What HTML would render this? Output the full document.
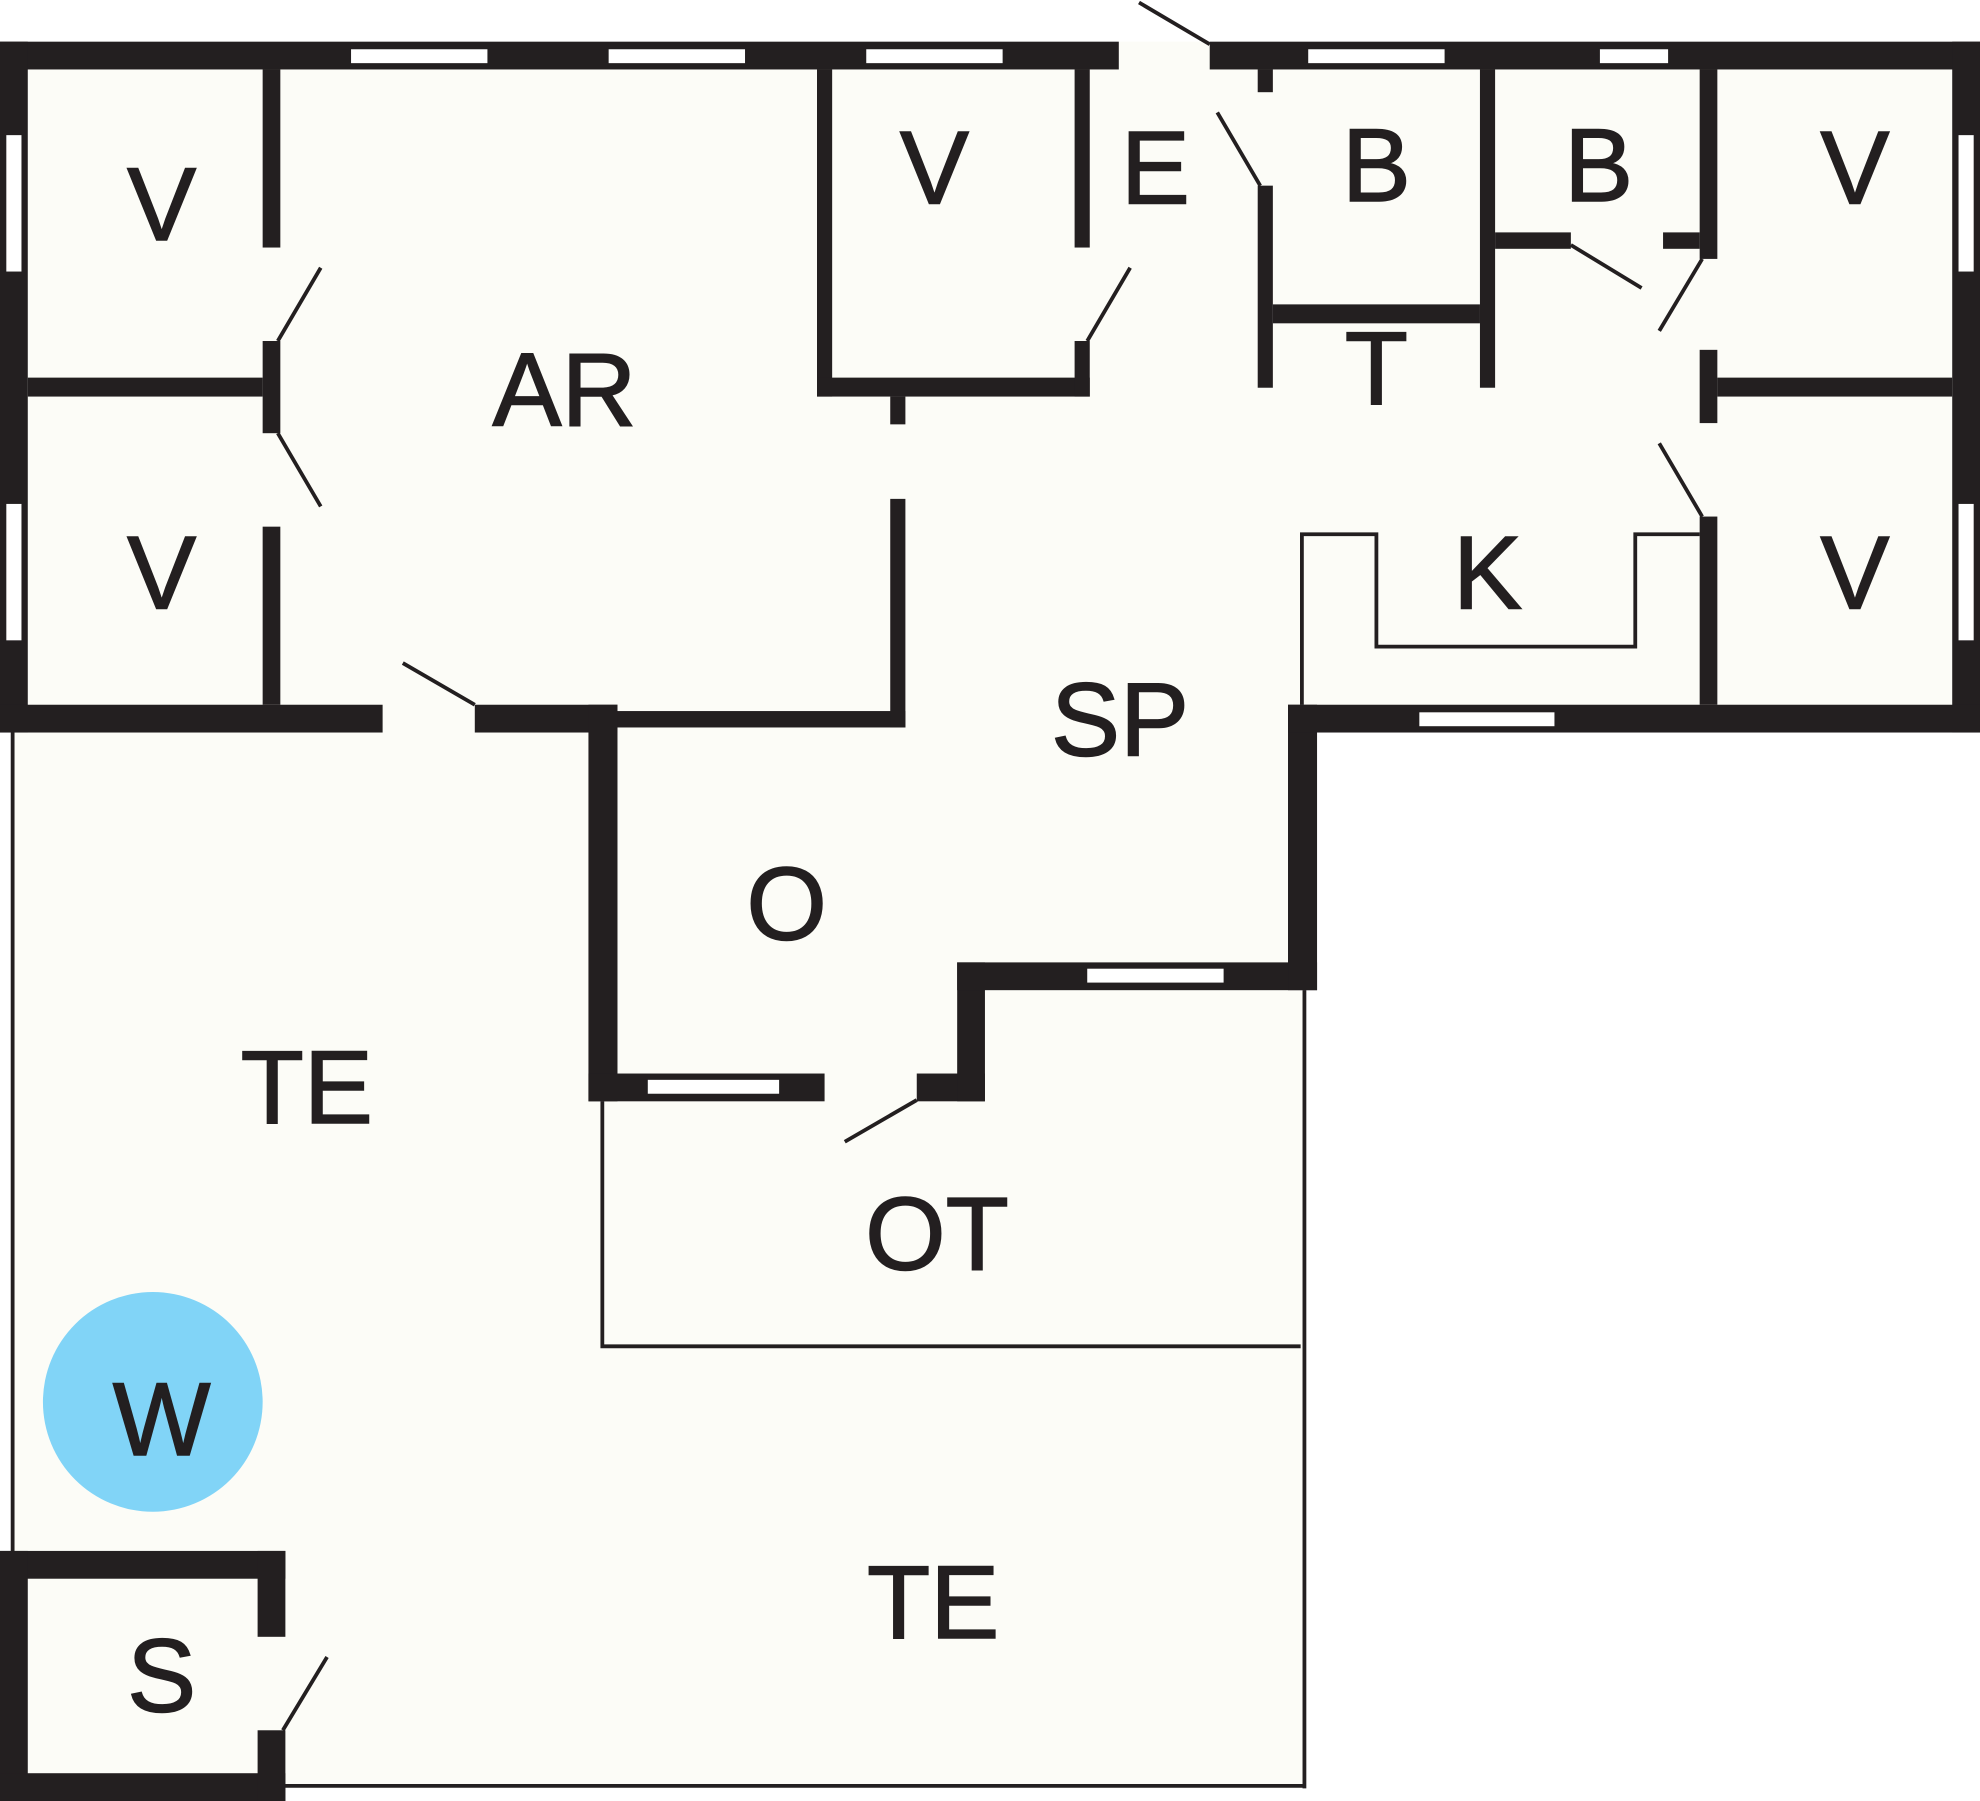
<!DOCTYPE html>
<html><head><meta charset="utf-8"><style>
html,body{margin:0;padding:0;background:#fff;}
svg{display:block;}
text{font-family:"Liberation Sans",sans-serif;font-size:82px;fill:#231f20;text-anchor:middle;stroke:#231f20;stroke-width:1.2px;}
</style></head><body>
<svg width="1980" height="1801" viewBox="0 0 1568 1426" preserveAspectRatio="none" xmlns="http://www.w3.org/2000/svg">
<g fill="#fcfcf7">
<rect x="0" y="33" width="1568" height="547"/>
<rect x="10" y="570" width="1023" height="846"/>
</g>
<g fill="#231f20">
<rect x="0" y="33" width="886" height="22"/>
<rect x="958" y="33" width="610" height="22"/>
<rect x="0" y="33" width="22" height="547"/>
<rect x="1546" y="33" width="22" height="547"/>
<rect x="0" y="558" width="303" height="22"/>
<rect x="376" y="558" width="113" height="22"/>
<rect x="489" y="563" width="228" height="13"/>
<rect x="705" y="395" width="12" height="181"/>
<rect x="466" y="558" width="23" height="314"/>
<rect x="466" y="850" width="187" height="22"/>
<rect x="726" y="850" width="54" height="22"/>
<rect x="758" y="762" width="22" height="110"/>
<rect x="758" y="762" width="285" height="22"/>
<rect x="1020" y="558" width="23" height="226"/>
<rect x="1020" y="558" width="548" height="22"/>
<rect x="208" y="55" width="14" height="141"/>
<rect x="208" y="270" width="14" height="73"/>
<rect x="208" y="417" width="14" height="141"/>
<rect x="22" y="299" width="186" height="15"/>
<rect x="1346" y="55" width="14" height="150"/>
<rect x="1346" y="277" width="14" height="58"/>
<rect x="1346" y="409" width="14" height="149"/>
<rect x="1360" y="299" width="186" height="15"/>
<rect x="647" y="55" width="12" height="259"/>
<rect x="647" y="299" width="216" height="15"/>
<rect x="851" y="55" width="12" height="141"/>
<rect x="851" y="270" width="12" height="44"/>
<rect x="705" y="314" width="12" height="22"/>
<rect x="996" y="55" width="12" height="18"/>
<rect x="996" y="147" width="12" height="160"/>
<rect x="1008" y="241" width="164" height="15"/>
<rect x="1172" y="55" width="12" height="252"/>
<rect x="1184" y="184" width="60" height="13"/>
<rect x="1317" y="184" width="29" height="13"/>
<rect x="0" y="1228" width="226" height="22"/>
<rect x="0" y="1228" width="22" height="198"/>
<rect x="0" y="1404" width="226" height="22"/>
<rect x="204" y="1228" width="22" height="68"/>
<rect x="204" y="1370" width="22" height="56"/>
</g>
<g fill="#fff">
<rect x="278" y="39" width="108" height="11"/>
<rect x="482" y="39" width="108" height="11"/>
<rect x="686" y="39" width="108" height="11"/>
<rect x="1036" y="39" width="108" height="11"/>
<rect x="1267" y="39" width="54" height="11"/>
<rect x="5" y="107" width="12" height="108"/>
<rect x="5" y="399" width="12" height="108"/>
<rect x="1551" y="107" width="12" height="108"/>
<rect x="1551" y="399" width="12" height="108"/>
<rect x="1124" y="564" width="107" height="11"/>
<rect x="513" y="855" width="104" height="11"/>
<rect x="861" y="767" width="108" height="11"/>
</g>
<g stroke="#231f20" fill="none" stroke-width="3">
<polyline points="1031,558 1031,423 1090,423 1090,512 1295,512 1295,423 1346,423"/>
<line x1="10" y1="580" x2="10" y2="1230"/>
<line x1="222" y1="1414" x2="1033" y2="1414"/>
<line x1="1033" y1="784" x2="1033" y2="1416"/>
<polyline points="477,872 477,1066 1030,1066"/>
</g>
<g stroke="#231f20" stroke-width="3">
<line x1="902" y1="2" x2="958" y2="35"/>
<line x1="220" y1="270" x2="254" y2="212"/>
<line x1="220" y1="343" x2="254" y2="401"/>
<line x1="319" y1="525" x2="376" y2="558"/>
<line x1="861" y1="270" x2="895" y2="212"/>
<line x1="964" y1="89" x2="998" y2="147"/>
<line x1="1244" y1="194" x2="1300" y2="228"/>
<line x1="1314" y1="262" x2="1348" y2="205"/>
<line x1="1314" y1="351" x2="1348" y2="409"/>
<line x1="669" y1="904" x2="726" y2="871"/>
<line x1="224" y1="1370" x2="259" y2="1312"/>
</g>
<circle cx="121" cy="1110" r="87" fill="#81d4f7"/>
<text x="128" y="190">V</text>
<text x="128" y="482">V</text>
<text x="447" y="337">AR</text>
<text x="740" y="161">V</text>
<text x="915" y="161">E</text>
<text x="1090" y="159">B</text>
<text x="1266" y="159">B</text>
<text x="1469" y="161">V</text>
<text x="1090" y="320">T</text>
<text x="1178" y="482">K</text>
<text x="1469" y="482">V</text>
<text x="887" y="598">SP</text>
<text x="623" y="744">O</text>
<text x="243" y="889">TE</text>
<text x="742" y="1005">OT</text>
<text x="128" y="1152">W</text>
<text x="739" y="1297">TE</text>
<text x="128" y="1355">S</text>
</svg>
</body></html>
